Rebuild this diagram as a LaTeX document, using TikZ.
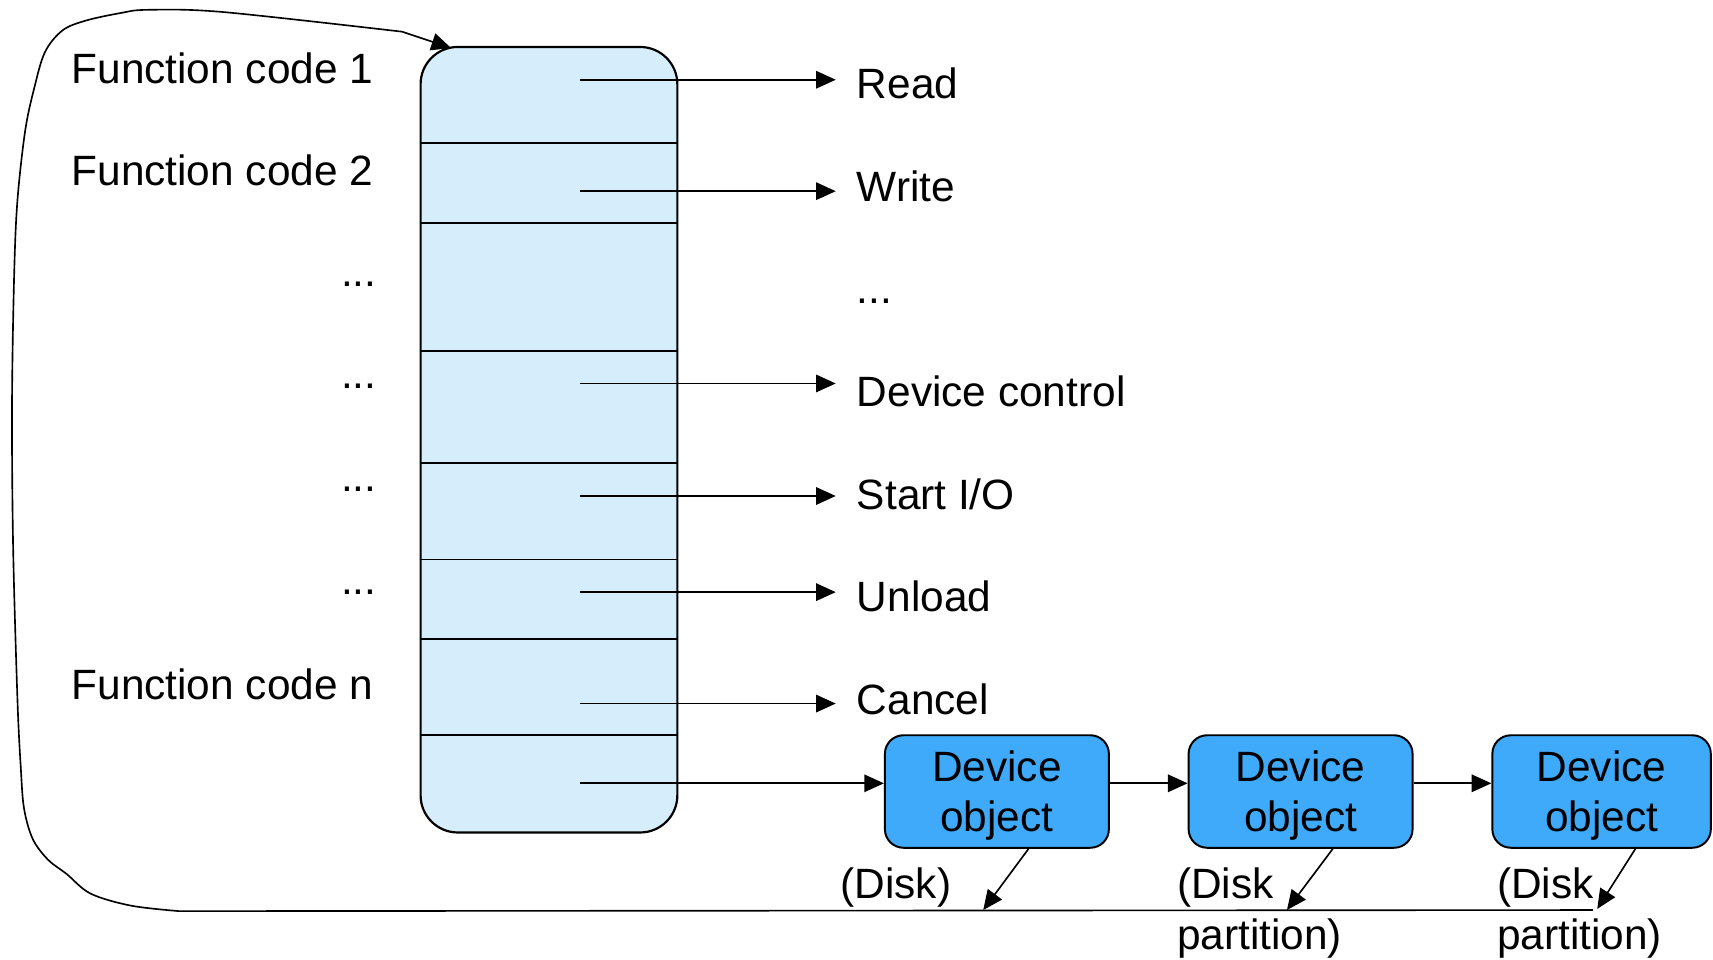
\documentclass[tikz,border=0pt]{standalone}
\usepackage{fontspec}
\setmainfont{Liberation Sans}
\usetikzlibrary{arrows.meta}
\definecolor{tblfill}{RGB}{214,237,252}
\definecolor{devfill}{RGB}{64,170,250}
\begin{document}
\begin{tikzpicture}[x=0.5pt,y=-0.5pt,
  lbl/.style={inner sep=0pt,font=\fontsize{19.4}{23.5}\selectfont},
  arr/.style={line width=0.75pt,-{Triangle[length=9pt,width=8pt]}},
  devbox/.style={draw,line width=0.9pt,fill=devfill,rounded corners=8.5pt,minimum width=102.5pt,minimum height=51.5pt,inner sep=0pt,align=center,text depth=0pt,font=\fontsize{19.4}{23}\selectfont},
  tblbox/.style={draw,line width=1pt,fill=tblfill,rounded corners=17pt,minimum width=117.5pt,minimum height=359.5pt,inner sep=0pt}]
\useasboundingbox (0,0) rectangle (1568,878);
% table
\node[tblbox] (tbl) at (502.5,402.5) {};
\foreach \y in {131,204,321,424,512,585,673} \draw[line width=0.75pt] (385,\y) -- (620,\y);
% left labels
\node[lbl,anchor=base east] (fc1) at (342,76) {Function code 1};
\node[lbl,anchor=base east] (fc2) at (342,170) {Function code 2};
\node[lbl,anchor=base east] (ld1) at (345,262) {...};
\node[lbl,anchor=base east] (ld2) at (345,356) {...};
\node[lbl,anchor=base east] (ld3) at (345,450) {...};
\node[lbl,anchor=base east] (ld4) at (345,544) {...};
\node[lbl,anchor=base east] (fcn) at (342,640) {Function code n};
% right labels
\node[lbl,anchor=base west] (read) at (784,90) {Read};
\node[lbl,anchor=base west] (write) at (784,184) {Write};
\node[lbl,anchor=base west] (rdots) at (784,278) {...};
\node[lbl,anchor=base west] (devctl) at (784,372) {Device control};
\node[lbl,anchor=base west] (startio) at (784,466) {Start I/O};
\node[lbl,anchor=base west] (unload) at (784,560) {Unload};
\node[lbl,anchor=base west] (cancel) at (784,654) {Cancel};
% arrow coordinates
\foreach \n/\y in {1/73,2/175,3/351,4/454,5/542,6/644} {
  \coordinate (s\n) at (531,\y);
  \coordinate (e\n) at (765,\y);
  \draw[arr] (s\n) -- (e\n);
}
\coordinate (s7) at (531,717);
% device objects
\node[devbox] (dev1) at (912.5,724.5) {Device\\object};
\node[devbox] (dev2) at (1190.5,724.5) {Device\\object};
\node[devbox,minimum width=100pt] (dev3) at (1466,724.5) {Device\\object};
\draw[arr] (s7) -- ([yshift=3.75pt]dev1.west);
\draw[arr] ([yshift=3.75pt]dev1.east) -- ([yshift=3.75pt]dev2.west);
\draw[arr] ([yshift=3.75pt]dev2.east) -- ([yshift=3.75pt]dev3.west);
% disk labels
\node[lbl,anchor=base west] (disk1) at (769,822) {(Disk)};
\node[lbl,anchor=base west,align=left] (disk2) at (1077,869) {(Disk\\partition)};
\node[lbl,anchor=base west,align=left] (disk3) at (1370,869) {(Disk\\partition)};
% down arrows to the chain line
\coordinate (t1) at (900,833);
\coordinate (t2) at (1178,833);
\coordinate (t3) at (1462,832);
\draw[arr] ([xshift=14.5pt]dev1.south) -- (t1);
\draw[arr] ([xshift=14.75pt]dev2.south) -- (t2);
\draw[arr] ([xshift=15.5pt]dev3.south) -- (t3);
% return line
\coordinate (bend) at (1458,833);
\coordinate (tip) at (413,44);
\draw[arr] (bend) -- plot[smooth,tension=0.55] coordinates {(164,834) (120,829) (83,818) (61,800) (44,787) (30,768) (22,740) (19,702) (16,641) (12,500) (11,370) (13,250) (16,183) (23,120) (31,82) (41,48) (57,28) (78,19) (110,12) (135,9) (204,11) (368,29)} -- (tip);
\end{tikzpicture}
\end{document}
